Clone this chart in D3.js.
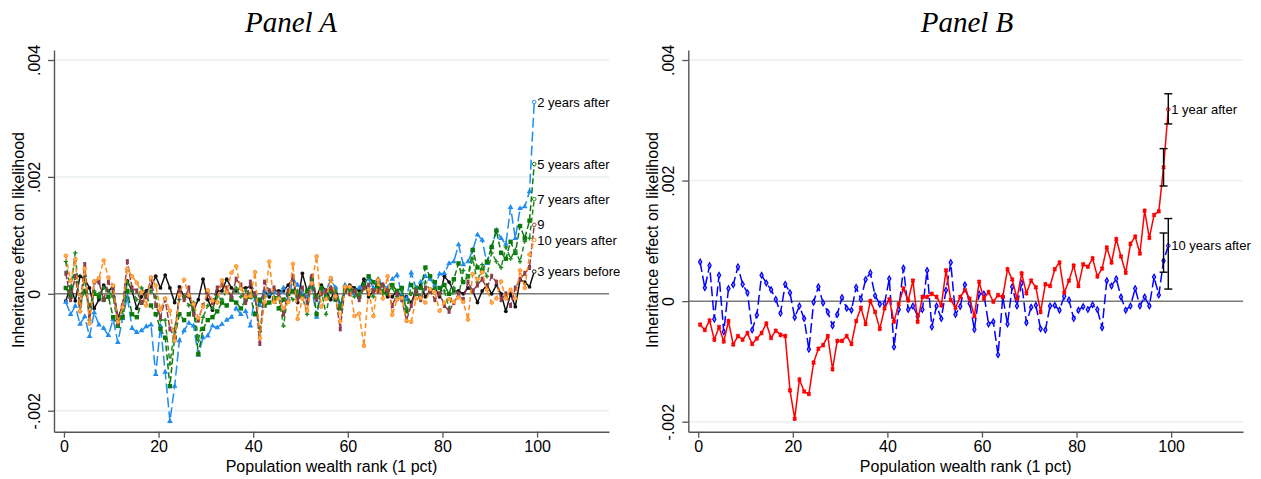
<!DOCTYPE html>
<html><head><meta charset="utf-8">
<script src="https://cdn.jsdelivr.net/npm/d3@7"></script>
<style>
body{margin:0;background:#fff}
svg{display:block}
text{font-family:"Liberation Sans",Arial,Helvetica,sans-serif;fill:#000}
</style>
</head><body>
<svg id="chart" width="1261" height="479"></svg>
<script>
// ---------- DATA (values in thousandths, i.e. 1 = .001) ----------
const ranks = d3.range(1, 101); // population wealth percentile rank 1..100
const yTicks = [-2, 0, 2, 4];
const yTickLabels = ["-.002", "0", ".002", ".004"];
const xTicks = [0, 20, 40, 60, 80, 100];

const threeYearsBefore = [-0.12,0.12,-0.12,0.30,0.25,0.10,-0.25,-0.10,0.15,0.05,0.12,-0.42,-0.20,0.22,0.05,-0.25,-0.05,0.05,0.12,0.30,0.10,0.32,0.10,-0.15,0.12,-0.05,-0.05,-0.28,-0.10,0.25,-0.10,-0.28,0.05,0.05,0.25,0.10,0.05,0.10,0.10,0.12,-0.05,-0.15,0.05,-0.05,0.05,0.05,0.05,0.15,0.25,-0.15,0.35,0.05,0.15,-0.05,0.15,0.05,-0.10,0.10,-0.20,0.05,0.15,0.10,0.05,0.25,-0.05,0.05,0.20,0.15,-0.05,-0.05,0.05,-0.05,-0.05,-0.15,0.05,0.15,-0.05,0.05,0.10,-0.05,0.30,0.20,0.05,0.05,0.00,0.10,0.05,-0.15,0.05,0.15,0.00,0.15,0.00,-0.30,0.00,-0.22,0.24,0.20,0.12,0.38];
const twoYearsAfter = [-0.14,-0.35,-0.21,-0.52,-0.39,-0.73,-0.32,-0.53,-0.59,-0.71,-0.44,-0.83,-0.42,-0.05,-0.59,-0.66,-0.63,-0.56,-0.53,-1.38,-0.55,-1.34,-2.18,-1.58,-0.80,-0.63,-0.50,-0.55,-1.05,-0.75,-0.72,-0.55,-0.58,-0.52,-0.45,-0.40,-0.25,-0.35,-0.30,-0.55,0.00,-0.20,0.05,0.00,0.05,-0.05,0.10,-0.10,0.25,0.15,0.00,-0.05,0.10,-0.40,0.05,0.05,0.25,0.10,-0.25,0.15,0.10,0.00,0.10,0.15,0.25,0.10,0.25,0.15,0.10,0.25,0.32,0.00,-0.10,0.36,0.10,0.20,0.30,0.25,0.15,0.34,0.35,0.52,0.55,0.84,0.50,0.55,0.75,1.01,0.92,0.52,0.80,1.09,0.95,0.85,1.48,0.95,1.46,1.49,1.75,3.28];
const fiveYearsAfter = [0.10,-0.05,0.30,-0.15,0.05,-0.20,0.00,-0.05,-0.10,-0.05,-0.40,-0.55,-0.40,0.05,-0.35,-0.40,-0.15,-0.05,-0.20,-0.35,-0.60,-0.75,-1.58,-0.75,-0.35,-0.45,-0.35,-0.25,-1.03,-0.60,-0.45,-0.40,-0.30,-0.15,-0.20,-0.10,-0.15,-0.25,-0.10,-0.05,-0.35,-0.10,-0.20,-0.15,-0.10,-0.25,-0.10,0.00,0.05,-0.05,-0.05,0.05,0.25,-0.35,0.10,-0.05,0.05,-0.10,-0.25,0.05,0.10,0.05,-0.05,0.15,0.30,0.20,0.10,0.05,0.00,0.15,0.05,0.10,-0.30,0.15,0.00,0.10,0.45,0.30,0.20,0.10,0.15,0.00,0.25,0.52,0.20,0.30,0.75,0.45,0.40,0.55,0.80,1.08,0.70,0.60,0.89,0.70,1.16,0.95,1.25,2.22];
const sevenYearsAfter = [0.55,0.05,0.70,-0.30,0.30,-0.45,0.05,0.00,0.10,0.05,-0.05,-0.55,-0.30,0.20,0.05,-0.10,0.10,-0.05,0.05,-0.05,-0.45,-0.45,-1.20,-0.60,-0.10,-0.05,-0.20,-0.15,-0.80,-0.40,-0.20,-0.25,-0.05,-0.10,0.05,-0.05,0.10,-0.05,0.05,0.00,-0.05,-0.65,-0.05,0.05,-0.05,-0.05,-0.55,0.00,-0.10,0.05,-0.05,-0.35,0.30,-0.05,0.05,-0.35,0.10,0.05,-0.20,0.10,0.05,-0.05,0.00,0.10,0.05,-0.05,0.25,0.00,0.05,0.10,-0.05,0.05,-0.25,0.00,0.10,-0.05,0.20,0.05,0.10,0.00,0.05,-0.25,0.10,-0.05,0.40,0.30,0.60,0.20,0.50,0.30,0.70,0.55,0.45,0.80,0.60,0.75,0.55,0.90,0.95,1.62];
const nineYearsAfter = [0.35,-0.10,0.30,-0.20,0.50,-0.40,0.20,0.20,-0.10,0.20,0.05,-0.50,-0.20,0.55,0.10,0.05,-0.15,-0.05,0.25,-0.20,-0.40,-0.10,-0.60,-0.75,0.05,-0.10,0.10,-0.35,-0.45,-0.20,0.00,-0.15,0.10,0.15,0.10,-0.05,0.25,0.15,-0.15,0.20,0.00,-0.85,0.20,0.05,0.10,0.00,-0.35,0.05,0.30,-0.10,0.10,-0.15,0.30,-0.10,0.00,0.05,0.10,-0.05,-0.60,0.10,0.00,0.05,-0.10,0.10,0.15,0.05,0.05,0.15,0.05,-0.20,0.00,-0.10,-0.45,-0.20,0.05,-0.10,0.10,0.05,-0.10,0.00,-0.20,-0.30,-0.15,0.00,-0.10,0.20,0.05,0.15,0.25,0.10,0.30,0.20,-0.10,0.00,-0.20,0.10,0.25,0.35,0.45,1.18];
const tenYearsAfter = [0.65,0.22,0.59,-0.30,0.43,-0.51,0.21,0.27,0.57,0.28,0.14,-0.48,-0.23,0.43,0.30,0.19,0.03,-0.20,0.28,0.14,-0.27,-0.08,-0.29,-0.80,-0.02,0.24,-0.03,-0.18,-0.41,-0.22,0.06,-0.12,-0.15,0.23,0.03,0.36,0.47,0.09,-0.05,-0.04,0.37,-0.76,-0.14,0.55,-0.14,-0.08,-0.25,-0.14,0.51,-0.43,-0.08,-0.29,0.18,0.64,-0.22,-0.09,0.27,-0.04,-0.47,0.12,0.12,-0.38,-0.34,-0.89,0.07,-0.38,0.24,-0.08,0.30,-0.36,-0.10,-0.07,-0.46,-0.48,-0.08,-0.07,-0.15,0.08,0.02,-0.29,-0.15,-0.09,-0.14,-0.06,-0.14,-0.44,0.34,0.25,0.37,0.07,-0.15,-0.08,0.21,-0.08,0.07,-0.08,0.40,0.10,0.67,0.92];
const oneYearAfter = [-0.39,-0.48,-0.32,-0.64,-0.43,-0.67,-0.33,-0.72,-0.58,-0.64,-0.53,-0.71,-0.62,-0.53,-0.37,-0.61,-0.49,-0.56,-0.58,-1.48,-1.95,-1.30,-1.50,-1.54,-1.02,-0.79,-0.73,-0.58,-1.13,-0.66,-0.66,-0.58,-0.71,-0.33,-0.11,-0.38,0.00,-0.18,-0.46,-0.12,0.03,-0.34,-0.05,0.21,0.01,0.34,-0.34,0.07,0.07,0.12,0.07,-0.07,0.51,0.02,-0.11,0.07,0.18,0.04,-0.25,0.32,0.04,0.15,-0.01,0.10,0.07,0.53,0.36,0.04,0.46,0.13,0.34,0.23,-0.18,0.28,0.25,0.53,0.64,0.14,0.34,0.59,0.25,0.61,0.57,0.71,0.41,0.54,0.89,0.64,1.03,0.74,0.47,0.95,1.07,0.79,1.50,1.05,1.43,1.49,2.22,3.18];
// confidence intervals for the top two percentiles in Panel B: [rank, low, high]
const oneYearAfterCI = [[99, 1.91, 2.53], [100, 2.94, 3.44]];
const tenYearsAfterCI = [[99, 0.48, 1.13], [100, 0.20, 1.37]];

const panelASeries = [
  {label: "3 years before", values: threeYearsBefore, color: "#111111", dash: null, marker: "circle"},
  {label: "2 years after", values: twoYearsAfter, color: "#1e8cf0", dash: "10,4", marker: "triangle"},
  {label: "5 years after", values: fiveYearsAfter, color: "#0b7a0b", dash: "6,3", marker: "square"},
  {label: "7 years after", values: sevenYearsAfter, color: "#1f8a1f", dash: "5,3", marker: "plus"},
  {label: "9", values: nineYearsAfter, color: "#8e3d4c", dash: "6,2", marker: "bar"},
  {label: "10 years after", values: tenYearsAfter, color: "#ff8c1a", dash: "5,3", marker: "ocircle"}
];
const panelBSeries = [
  {label: "10 years after", values: tenYearsAfter, color: "#0000ff", dash: "10,4", marker: "odiamond", ci: tenYearsAfterCI},
  {label: "1 year after", values: oneYearAfter, color: "#ff0000", dash: null, marker: "diamond", ci: oneYearAfterCI}
];

// ---------- LAYOUT ----------
const svg = d3.select("#chart");
const panels = [
  {title: "Panel A", series: panelASeries, x0: 54, x1: 609, yTop: 50, yBot: 431.7,
   xDomain: [-2.1, 115.2], yDomain: [-2.359, 4.171], titleX: 291},
  {title: "Panel B", series: panelBSeries, x0: 688.3, x1: 1243, yTop: 50, yBot: 431.7,
   xDomain: [-2.1, 115.2], yDomain: [-2.166, 4.166], titleX: 967}
];
const xOffset = -0.6; // points sit just left of rank value

function drawMarker(g, type, x, y, color) {
  if (type === "circle") {
    g.append("circle").attr("cx", x).attr("cy", y).attr("r", 1.9).attr("fill", color);
  } else if (type === "ocircle") {
    g.append("circle").attr("cx", x).attr("cy", y).attr("r", 1.8).attr("fill", "#ffb060").attr("stroke", color).attr("stroke-width", 1);
  } else if (type === "triangle") {
    g.append("path").attr("d", d3.symbol(d3.symbolTriangle, 14)()).attr("transform", `translate(${x},${y})`).attr("fill", color);
  } else if (type === "square") {
    g.append("rect").attr("x", x - 2.2).attr("y", y - 2.2).attr("width", 4.4).attr("height", 4.4).attr("fill", color);
  } else if (type === "plus") {
    g.append("path").attr("d", d3.symbol(d3.symbolCross, 10)()).attr("transform", `translate(${x},${y})`).attr("fill", color);
  } else if (type === "bar") {
    g.append("rect").attr("x", x - 1.5).attr("y", y - 2.5).attr("width", 3).attr("height", 5).attr("fill", color);
  } else if (type === "diamond") {
    g.append("path").attr("d", d3.symbol(d3.symbolCross, 13)()).attr("transform", `translate(${x},${y}) rotate(45)`).attr("fill", color);
    g.append("path").attr("d", d3.symbol(d3.symbolDiamond, 9)()).attr("transform", `translate(${x},${y})`).attr("fill", color);
  } else if (type === "odiamond") {
    g.append("path").attr("d", d3.symbol(d3.symbolDiamond, 9)()).attr("transform", `translate(${x},${y})`).attr("fill", "#9a9aff").attr("stroke", color).attr("stroke-width", 1.2);
  } else if (type === "end") {
    g.append("circle").attr("cx", x).attr("cy", y).attr("r", 1.8).attr("fill", "#fff").attr("stroke", color).attr("stroke-width", 1);
  }
}

panels.forEach(p => {
  const x = d3.scaleLinear().domain(p.xDomain).range([p.x0, p.x1]);
  const y = d3.scaleLinear().domain(p.yDomain).range([p.yBot, p.yTop]);
  const g = svg.append("g");

  // gridlines
  g.append("g").selectAll("line").data(yTicks.filter(d => d !== 0)).join("line")
    .attr("x1", p.x0).attr("x2", p.x1).attr("y1", d => y(d)).attr("y2", d => y(d))
    .attr("stroke", "#e9f0f3").attr("stroke-width", 1.5);

  // zero reference line
  g.append("line").attr("x1", p.x0).attr("x2", p.x1).attr("y1", y(0)).attr("y2", y(0))
    .attr("stroke", "#7a7a7a").attr("stroke-width", 1.5);

  // axes
  const yAxis = d3.axisLeft(y).tickValues(yTicks).tickFormat((d, i) => yTickLabels[i]).tickSize(6).tickSizeOuter(0);
  const ya = g.append("g").attr("transform", `translate(${p.x0},0)`).call(yAxis);
  ya.select(".domain").attr("stroke", "#555").attr("stroke-width", 1.4);
  ya.selectAll(".tick line").attr("stroke", "#555").attr("stroke-width", 1.3);
  ya.selectAll(".tick text").attr("x", null).attr("dy", null)
    .attr("transform", "translate(-14,0) rotate(-90)").attr("text-anchor", "middle")
    .style("font-size", "16px").style("font-family", "'Liberation Sans',Arial,sans-serif").attr("fill", "#000");

  const xAxis = d3.axisBottom(x).tickValues(xTicks).tickSize(6).tickSizeOuter(0);
  const xa = g.append("g").attr("transform", `translate(0,${p.yBot})`).call(xAxis);
  xa.select(".domain").attr("stroke", "#555").attr("stroke-width", 1.4);
  xa.selectAll(".tick line").attr("stroke", "#555").attr("stroke-width", 1.3);
  xa.selectAll(".tick text").style("font-size", "16px").style("font-family", "'Liberation Sans',Arial,sans-serif").attr("fill", "#000");

  // axis titles
  g.append("text").attr("x", (p.x0 + p.x1) / 2).attr("y", 472)
    .attr("text-anchor", "middle").style("font-size", "16px").text("Population wealth rank (1 pct)");
  g.append("text").attr("transform", `translate(${p.x0 - 30},240) rotate(-90)`)
    .attr("text-anchor", "middle").style("font-size", "16px").text("Inheritance effect on likelihood");

  // panel title
  g.append("text").attr("x", p.titleX).attr("y", 32).attr("text-anchor", "middle")
    .style("font-family", "'Liberation Serif','Times New Roman',serif").style("font-style", "italic")
    .style("font-size", "29px").text(p.title);

  // series
  p.series.forEach(s => {
    const pts = s.values.map((v, i) => [ranks[i] + xOffset, v]);
    const line = d3.line().x(d => x(d[0])).y(d => y(d[1]));
    g.append("path").attr("d", line(pts)).attr("fill", "none").attr("stroke", s.color)
      .attr("stroke-width", 1.5).attr("stroke-linejoin", "round")
      .attr("stroke-dasharray", s.dash);
    const mg = g.append("g");
    pts.forEach((d, i) => {
      drawMarker(mg, i === pts.length - 1 ? "end" : s.marker, x(d[0]), y(d[1]), s.color);
    });
    if (s.ci) {
      s.ci.forEach(c => {
        const cx = x(c[0] + xOffset);
        g.append("line").attr("x1", cx).attr("x2", cx).attr("y1", y(c[1])).attr("y2", y(c[2]))
          .attr("stroke", "#000").attr("stroke-width", 1.4);
        [c[1], c[2]].forEach(v => g.append("line").attr("x1", cx - 4).attr("x2", cx + 4)
          .attr("y1", y(v)).attr("y2", y(v)).attr("stroke", "#000").attr("stroke-width", 1.4));
      });
    }
    const last = pts[pts.length - 1];
    g.append("text").attr("x", x(last[0]) + 3).attr("y", y(last[1])).attr("dy", "0.35em")
      .style("font-size", "13px").text(s.label);
  });
});
</script>
</body></html>
